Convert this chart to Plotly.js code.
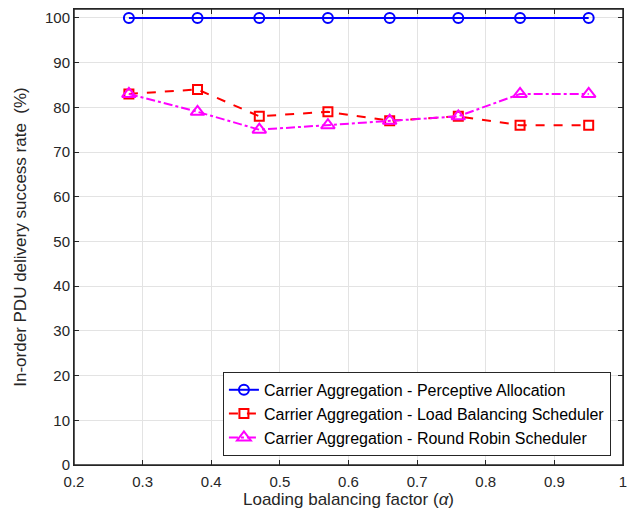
<!DOCTYPE html>
<html>
<head>
<meta charset="utf-8">
<script src="https://cdn.plot.ly/plotly-3.0.1.min.js"></script>
<style>html,body{margin:0;padding:0;background:#fff;}#chart{width:629px;height:514px;}</style>
</head>
<body>
<div id="chart"></div>
<script>
const alphaX = [0.28, 0.38, 0.47, 0.57, 0.66, 0.76, 0.85, 0.95];
const perceptive = [100, 100, 100, 100, 100, 100, 100, 100];
const loadBalancing = [83, 84, 78, 79, 77, 78, 76, 76];
const roundRobin = [83, 79, 75, 76, 77, 78, 83, 83];
const seriesNames = [
  'Carrier Aggregation - Perceptive Allocation',
  'Carrier Aggregation - Load Balancing Scheduler',
  'Carrier Aggregation - Round Robin Scheduler'
];
const xTicks = [0.2, 0.3, 0.4, 0.5, 0.6, 0.7, 0.8, 0.9, 1];
const xTickText = ['0.2', '0.3', '0.4', '0.5', '0.6', '0.7', '0.8', '0.9', '1'];
const yTicks = [0, 10, 20, 30, 40, 50, 60, 70, 80, 90, 100];

const traces = [
  {x: alphaX, y: perceptive, name: seriesNames[0], mode: 'lines+markers',
   line: {color: '#0000ff', width: 2}, marker: {symbol: 'circle-open', size: 10, color: '#0000ff', line: {width: 2}}},
  {x: alphaX, y: loadBalancing, name: seriesNames[1], mode: 'lines+markers',
   line: {color: '#ff0000', width: 2, dash: 'dash'}, marker: {symbol: 'square-open', size: 9, color: '#ff0000', line: {width: 2}}},
  {x: alphaX, y: roundRobin, name: seriesNames[2], mode: 'lines+markers',
   line: {color: '#ff00ff', width: 2, dash: 'dashdot'}, marker: {symbol: 'triangle-up-open', size: 12, color: '#ff00ff', line: {width: 2}}}
];

const layout = {
  width: 629, height: 514,
  margin: {l: 74, r: 6, t: 9, b: 49},
  paper_bgcolor: '#fff', plot_bgcolor: '#fff',
  font: {family: 'Liberation Sans, Arial, sans-serif', color: '#262626', size: 15},
  showlegend: true,
  legend: {x: 0.978, y: 0.02, xanchor: 'right', yanchor: 'bottom', bgcolor: '#fff',
    bordercolor: '#262626', borderwidth: 1, font: {size: 16, color: '#000'},
    tracegroupgap: 0, itemwidth: 30},
  shapes: [{type: 'rect', xref: 'paper', yref: 'paper', x0: 0, x1: 1, y0: 0, y1: 1,
    line: {color: '#262626', width: 1.5}, layer: 'above'}],
  xaxis: {range: [0.2, 1], tickvals: xTicks, ticktext: xTickText, showgrid: true, gridcolor: '#e3e3e3',
    zeroline: false, showline: true, linecolor: '#262626', linewidth: 1, mirror: 'allticks',
    ticks: 'inside', ticklen: 5, tickcolor: '#262626', tickfont: {size: 15}, ticklabeloverflow: 'allow',
    ticklabelstandoff: 3,
    title: {text: 'Loading balancing factor (<i>α</i>)', font: {size: 17}, standoff: 0}},
  yaxis: {range: [0, 102], tickvals: yTicks, showgrid: true, gridcolor: '#e3e3e3',
    zeroline: false, showline: true, linecolor: '#262626', linewidth: 1, mirror: 'allticks',
    ticks: 'inside', ticklen: 5, tickcolor: '#262626', tickfont: {size: 15},
    title: {text: 'In-order PDU delivery success rate  (%)', font: {size: 17}, standoff: 14}}
};
Plotly.newPlot('chart', traces, layout, {displayModeBar: false, staticPlot: true});
</script>
</body>
</html>
